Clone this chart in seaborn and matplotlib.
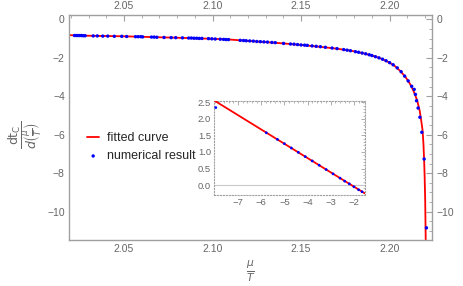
import numpy as np
import matplotlib
matplotlib.use("Agg")
import matplotlib.pyplot as plt
from matplotlib.ticker import MultipleLocator, FixedLocator
import pandas as pd
import seaborn as sns

# fitted curve
curve_mu = [2.0189, 2.03, 2.05, 2.07, 2.09, 2.10, 2.11, 2.12, 2.13, 2.14, 2.15, 2.16,
            2.17, 2.18, 2.185, 2.19, 2.195, 2.20, 2.203, 2.206, 2.209, 2.2115, 2.2135,
            2.2155, 2.2170, 2.2180, 2.2186, 2.2191, 2.2195, 2.2198, 2.2201, 2.2204, 2.2206]
curve_dt = [-0.82, -0.85, -0.88, -0.93, -0.98, -1.01, -1.05, -1.12, -1.18, -1.25, -1.33, -1.42,
            -1.52, -1.66, -1.76, -1.88, -2.03, -2.25, -2.43, -2.68, -3.00, -3.35, -3.72,
            -4.19, -4.75, -5.35, -5.75, -6.45, -7.30, -8.20, -9.39, -11.47, -12.5]

# numerical result points
num_mu = [2.0220, 2.0230, 2.0240, 2.0250, 2.0260, 2.0270, 2.0280,
          2.0326, 2.0349, 2.0380, 2.0408, 2.0445, 2.0487, 2.0515,
          2.0565, 2.0580, 2.0595, 2.0605, 2.0655, 2.0670, 2.0685,
          2.0726, 2.0766, 2.0792, 2.0830, 2.0865, 2.0880, 2.0895, 2.0910, 2.0925, 2.0940,
          2.0977, 2.0996, 2.1015, 2.1043, 2.1062, 2.1076, 2.1090, 2.1156, 2.1175,
          2.1190, 2.1210, 2.1230, 2.1250, 2.1270, 2.1290, 2.1310, 2.1335,
          2.1354, 2.1401,
          2.1440, 2.1460, 2.1480, 2.1500, 2.1520, 2.1535,
          2.1562, 2.1585, 2.1609,
          2.1637, 2.1675, 2.1703,
          2.1741, 2.1760, 2.1779,
          2.1807, 2.1825, 2.1845, 2.1865, 2.1885, 2.1900,
          2.1920, 2.1940, 2.1960, 2.1980, 2.2000, 2.2020, 2.2043,
          2.2065, 2.2085, 2.2105, 2.2125,
          2.2139, 2.2146, 2.2152, 2.2161, 2.2171, 2.2182, 2.2195, 2.2208]
num_dt = [-0.84, -0.84, -0.84, -0.84, -0.84, -0.85, -0.85,
          -0.86, -0.86, -0.87, -0.87, -0.88, -0.88, -0.89,
          -0.90, -0.90, -0.90, -0.91, -0.92, -0.92, -0.93,
          -0.94, -0.95, -0.95, -0.96, -0.97, -0.97, -0.98, -0.98, -0.99, -0.99,
          -1.00, -1.01, -1.02, -1.03, -1.04, -1.05, -1.05, -1.09, -1.10,
          -1.11, -1.12, -1.13, -1.15, -1.16, -1.17, -1.18, -1.20,
          -1.21, -1.25,
          -1.28, -1.29, -1.31, -1.33, -1.34, -1.35,
          -1.38, -1.40, -1.42,
          -1.45, -1.49, -1.52,
          -1.57, -1.60, -1.63,
          -1.68, -1.71, -1.75, -1.79, -1.84, -1.88,
          -1.94, -2.00, -2.07, -2.15, -2.25, -2.36, -2.52,
          -2.72, -2.95, -3.20, -3.48,
          -3.64, -3.90, -4.23, -4.61, -5.09, -5.87, -7.26, -10.84]

# inset: straight fitted line and points
ins_line_x = [-8.04, -1.53]
ins_line_y = [2.56, -0.25]
ins_pts_x = [-7.96, -5.78, -5.30, -5.00, -4.70, -4.40, -4.10, -3.80, -3.50,
             -3.20, -2.90, -2.60, -2.40, -2.20, -2.00, -1.80, -1.65]
ins_pts_y = [2.34, 1.58, 1.38, 1.25, 1.12, 0.99, 0.86, 0.73, 0.60,
             0.47, 0.34, 0.21, 0.12, 0.04, -0.05, -0.14, -0.20]
ins_xticks = [-7, -6, -5, -4, -3, -2]

sns.set_style("white")
plt.rcParams['font.family'] = ['Liberation Sans', 'DejaVu Sans']

frame_col = "#a0a0a0"
text_col = "#666666"

fig = plt.figure(figsize=(4.63, 2.86), dpi=100)
ax = fig.add_axes([0.149, 0.161, 0.785, 0.786])

curve = pd.DataFrame({"mu": curve_mu, "dt": curve_dt})
pts = pd.DataFrame({"mu": num_mu, "dt": num_dt})
sns.lineplot(data=curve, x="mu", y="dt", color="red", lw=1.3, ax=ax, label="fitted curve", sort=False)
sns.scatterplot(data=pts, x="mu", y="dt", color="blue", s=6, edgecolor="none", ax=ax,
                label="numerical result", zorder=3)

ax.set_xlim(2.0189, 2.2242)
ax.set_ylim(-11.47, 0.22)
ax.xaxis.set_major_locator(MultipleLocator(0.05))
ax.xaxis.set_minor_locator(MultipleLocator(0.01))
ax.yaxis.set_major_locator(MultipleLocator(2))
ax.yaxis.set_minor_locator(MultipleLocator(0.5))
ax.tick_params(which="both", direction="in", top=True, right=True, labeltop=True,
               labelright=True, color=frame_col, labelcolor=text_col, labelsize=7.5)
ax.tick_params(which="major", length=4, width=0.8, pad=3)
ax.tick_params(which="minor", length=2, width=0.6)
for sp in ax.spines.values():
    sp.set_color(frame_col)
    sp.set_linewidth(1.0)

ax.set_xlabel(r"$\frac{\mu}{T}$", color=text_col, fontsize=11, labelpad=3)
ax.set_ylabel(r"$\dfrac{\mathrm{dt_C}}{d\left(\frac{\mu}{T}\right)}$", color=text_col,
              fontsize=9)
ax.yaxis.set_label_coords(-0.07, 0.47)

leg = ax.legend(loc="upper left", bbox_to_anchor=(0.033, 0.508), frameon=False,
                borderpad=0, fontsize=9, handlelength=0.95, handletextpad=0.6,
                labelspacing=0.5, markerscale=1.0)

# inset
axi = fig.add_axes([0.462, 0.318, 0.326, 0.329])
axi.set_facecolor("white")
sns.lineplot(x=ins_line_x, y=ins_line_y, color="red", lw=1.3, ax=axi, zorder=3)
sns.scatterplot(x=ins_pts_x, y=ins_pts_y, color="blue", s=4, edgecolor="none", ax=axi, zorder=4)
axi.axhline(0, color="#c8c8c8", lw=0.8, zorder=1)
axi.set_xlim(-8.04, -1.53)
axi.set_ylim(-0.30, 2.54)
axi.xaxis.set_major_locator(FixedLocator(ins_xticks))
axi.xaxis.set_minor_locator(MultipleLocator(0.2))
axi.yaxis.set_major_locator(MultipleLocator(0.5))
axi.yaxis.set_minor_locator(MultipleLocator(0.1))
axi.tick_params(which="both", direction="in", top=True, right=True, color=frame_col,
                labelcolor=text_col, labelsize=6.8, pad=2)
axi.tick_params(which="major", length=3, width=0.6)
axi.tick_params(which="minor", length=1.5, width=0.5)
for sp in axi.spines.values():
    sp.set_color(frame_col)
    sp.set_linestyle(":")
    sp.set_linewidth(0.8)

fig.savefig("out.png", dpi=100)
